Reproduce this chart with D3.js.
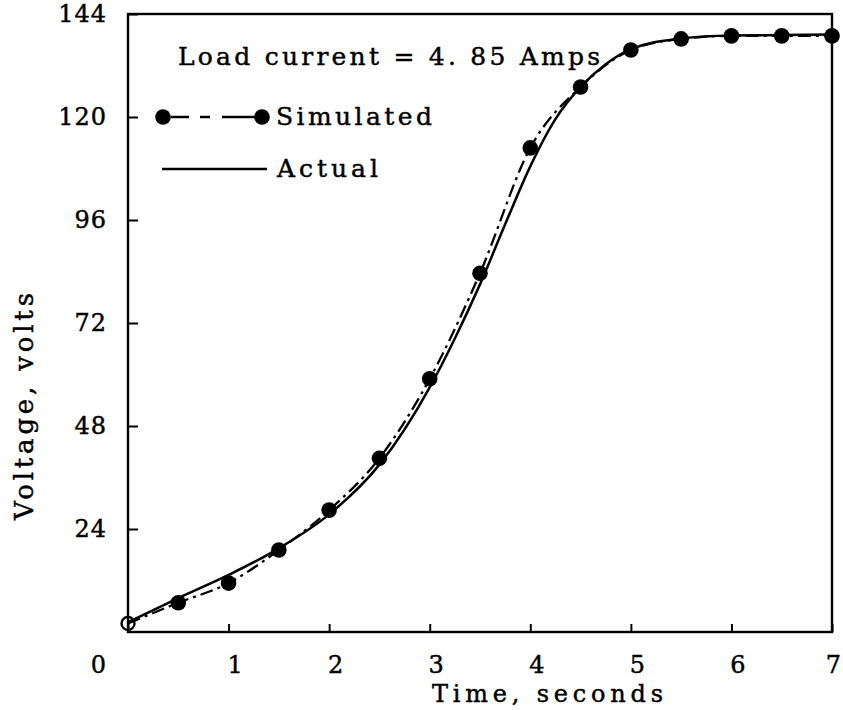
<!DOCTYPE html>
<html>
<head>
<meta charset="utf-8">
<script src="https://cdn.jsdelivr.net/npm/d3@7/dist/d3.min.js"></script>
<style>
  html, body { margin: 0; padding: 0; background: #fff; }
  svg { display: block; }
  text { font-family: "DejaVu Serif", "Liberation Serif", serif; fill: #000; stroke: #000; stroke-width: 0.45px; }
</style>
</head>
<body>
<svg id="chart" width="843" height="710"></svg>
<script>
// ---- Data ----
const simTimes = [0, 0.5, 1, 1.5, 2, 2.5, 3, 3.5, 4, 4.5, 5, 5.5, 6, 6.5, 7];
const simVolts = [2.0, 6.8, 11.4, 19.1, 28.4, 40.5, 59.0, 83.6, 112.8, 127.0, 135.6, 138.2, 138.9, 138.9, 138.9];

const actTimes = [0, 0.5, 1, 1.5, 2, 2.5, 3, 3.25, 3.5, 3.75, 4, 4.25, 4.5, 4.75, 5, 5.5, 6, 6.5, 7];
const actVolts = [2.3, 7.9, 13.3, 19.5, 27.4, 39.0, 57.0, 68.4, 81.0, 95.0, 108.5, 119.5, 127.0, 132.3, 135.8, 138.3, 139.0, 139.1, 139.2];

const xTicks = [0, 1, 2, 3, 4, 5, 6, 7];
const yTicks = [24, 48, 72, 96, 120, 144];

const xTitle = "Time, seconds";
const yTitle = "Voltage, volts";
const noteText = "Load current = 4. 85 Amps";
const legendLabels = ["Simulated", "Actual"];

(function () {
  const svg = d3.select("#chart");
  const mL = 128, mR = 832, mT = 14, mB = 632;

  const x = d3.scaleLinear().domain([0, 7]).range([mL, mR]);
  const y = d3.scaleLinear().domain([0, 144]).range([mB, mT]);

  svg.append("rect").attr("width", 843).attr("height", 710).attr("fill", "#fff");

  // Frame
  svg.append("rect")
    .attr("x", mL).attr("y", mT)
    .attr("width", mR - mL).attr("height", mB - mT)
    .attr("fill", "none").attr("stroke", "#000").attr("stroke-width", 2.4);

  // X axis (ticks pointing inward)
  const gx = svg.append("g").attr("transform", `translate(0,${mB})`)
    .call(d3.axisBottom(x).tickValues(xTicks).tickFormat(d3.format("d"))
      .tickSizeInner(-8).tickSizeOuter(0).tickPadding(24));
  gx.select(".domain").remove();
  gx.selectAll(".tick line").attr("stroke", "#000").attr("stroke-width", 2);
  gx.selectAll(".tick text")
    .attr("font-size", 24).attr("font-family", "DejaVu Serif")
    .attr("dx", d => d === 0 ? -30 : (d === 7 ? 1 : 6));

  // Y axis (ticks pointing inward)
  const gy = svg.append("g").attr("transform", `translate(${mL},0)`)
    .call(d3.axisLeft(y).tickValues(yTicks).tickFormat(d3.format("d"))
      .tickSizeInner(-10).tickSizeOuter(0).tickPadding(21));
  gy.select(".domain").remove();
  gy.selectAll(".tick line").attr("stroke", "#000").attr("stroke-width", 2);
  gy.selectAll(".tick text")
    .attr("font-size", 24).attr("font-family", "DejaVu Serif")
    .attr("letter-spacing", 1);

  // Axis titles
  svg.append("text").text(xTitle)
    .attr("x", 432).attr("y", 702)
    .attr("font-size", 24)
    .attr("textLength", 231).attr("lengthAdjust", "spacing");

  svg.append("text").text(yTitle)
    .attr("transform", "translate(33,520) rotate(-90)")
    .attr("font-size", 26)
    .attr("textLength", 227).attr("lengthAdjust", "spacing");

  // Lines
  const line = d3.line().x(d => x(d[0])).y(d => y(d[1])).curve(d3.curveMonotoneX);
  const actData = actTimes.map((t, i) => [t, actVolts[i]]);
  const simData = simTimes.map((t, i) => [t, simVolts[i]]);

  svg.append("path").datum(actData)
    .attr("d", line)
    .attr("fill", "none").attr("stroke", "#000").attr("stroke-width", 2.5);

  svg.append("path").datum(simData)
    .attr("d", line)
    .attr("fill", "none").attr("stroke", "#000").attr("stroke-width", 2.3)
    .attr("stroke-dasharray", "13,5,3,5");

  // Simulated points
  svg.selectAll("circle.sim").data(simData)
    .enter().append("circle")
    .attr("class", "sim")
    .attr("cx", d => x(d[0])).attr("cy", d => y(d[1]))
    .attr("r", (d, i) => i === 0 ? 6.5 : 7.8)
    .attr("fill", (d, i) => i === 0 ? "none" : "#000")
    .attr("stroke", "#000").attr("stroke-width", (d, i) => i === 0 ? 2.4 : 0);

  // Annotation
  svg.append("text").text(noteText)
    .attr("x", 178).attr("y", 65)
    .attr("font-size", 25)
    .attr("textLength", 422).attr("lengthAdjust", "spacing");

  // Legend
  const lg = svg.append("g");
  lg.append("line").attr("x1", 163).attr("x2", 262).attr("y1", 117).attr("y2", 117)
    .attr("stroke", "#000").attr("stroke-width", 2.3).attr("stroke-dasharray", "0,8,18,11,10,12,40");
  [163, 262].forEach(cx => lg.append("circle").attr("cx", cx).attr("cy", 117).attr("r", 7.8).attr("fill", "#000"));
  lg.append("text").text(legendLabels[0])
    .attr("x", 276).attr("y", 125).attr("font-size", 25)
    .attr("textLength", 156).attr("lengthAdjust", "spacing");

  lg.append("line").attr("x1", 162).attr("x2", 267).attr("y1", 169).attr("y2", 169)
    .attr("stroke", "#000").attr("stroke-width", 2.5);
  lg.append("text").text(legendLabels[1])
    .attr("x", 277).attr("y", 177).attr("font-size", 25)
    .attr("textLength", 101).attr("lengthAdjust", "spacing");
})();
</script>
</body>
</html>
